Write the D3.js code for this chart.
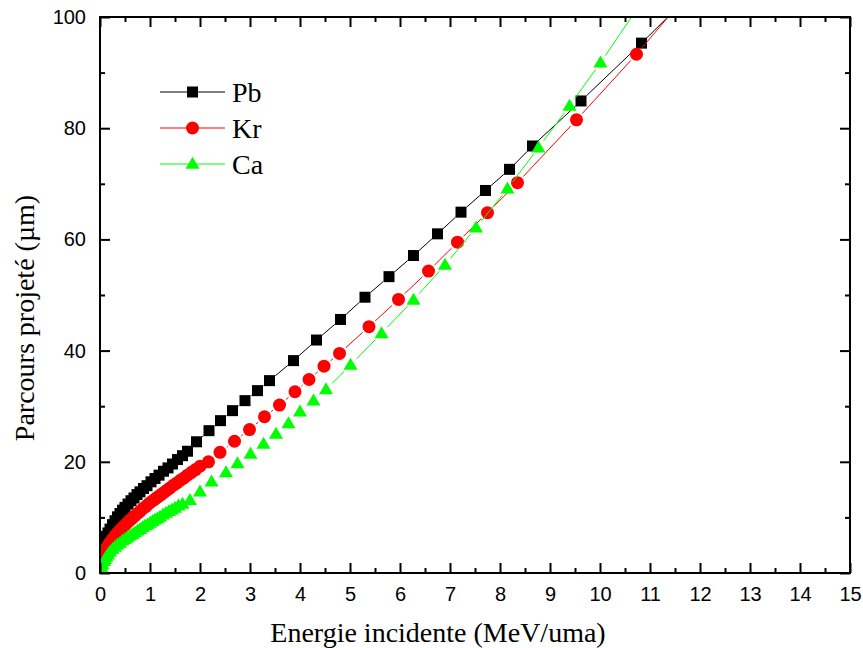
<!DOCTYPE html>
<html>
<head>
<meta charset="utf-8">
<script src="https://cdn.jsdelivr.net/npm/d3@7"></script>
<style>
  html, body { margin: 0; padding: 0; background: #fff; }
  svg { display: block; }
  .tick-label { font-family: "Liberation Sans", Arial, sans-serif; font-size: 20px; fill: #000; }
  .title { font-family: "Liberation Serif", "Times New Roman", serif; font-size: 28px; fill: #000; }
</style>
</head>
<body>
<svg id="chart" width="863" height="648"></svg>
<script>
// Projected range (µm) versus incident energy (MeV/u) for three ions.
const energyPb = [0.01, 0.03, 0.05, 0.08, 0.1, 0.13, 0.16, 0.2, 0.25, 0.3, 0.35, 0.4, 0.45, 0.5, 0.56, 0.62, 0.68, 0.74, 0.8,
  0.87, 0.94, 1.02, 1.1, 1.18, 1.27, 1.36, 1.45, 1.55, 1.65, 1.75, 1.93,
  2.18, 2.41, 2.65, 2.9, 3.15, 3.39, 3.87, 4.33, 4.81, 5.3, 5.78, 6.27, 6.75, 7.22, 7.71, 8.19, 8.65, 9.62, 10.83, 12.3];
const rangePb = [3.0, 4.2, 4.8, 5.5, 6.0, 6.6, 7.2, 7.9, 8.7, 9.4, 10.1, 10.7, 11.3, 11.8, 12.4, 13.0, 13.5, 14.1, 14.6,
  15.2, 15.7, 16.4, 17.0, 17.6, 18.3, 18.9, 19.6, 20.4, 21.1, 21.9, 23.6,
  25.6, 27.4, 29.2, 31.0, 32.8, 34.6, 38.2, 41.9, 45.6, 49.6, 53.3, 57.1, 61.0, 64.9, 68.8, 72.6, 76.8, 84.9, 95.3, 108.4];

const energyKr = [0.01, 0.03, 0.05, 0.08, 0.1, 0.13, 0.16, 0.2, 0.25, 0.3, 0.35, 0.4, 0.45, 0.5, 0.55, 0.6, 0.65, 0.7, 0.75, 0.8,
  0.86, 0.92, 0.98, 1.04, 1.1, 1.16, 1.22, 1.28, 1.34, 1.4, 1.47, 1.54, 1.61, 1.68, 1.75, 1.83, 1.91, 2.0,
  2.17, 2.4, 2.69, 2.99, 3.29, 3.59, 3.9, 4.18, 4.48, 4.79, 5.38, 5.97, 6.57, 7.15, 7.75, 8.35, 9.53, 10.73, 11.93];
const rangeKr = [1.6, 2.6, 3.0, 3.6, 4.0, 4.5, 4.9, 5.5, 6.1, 6.7, 7.2, 7.7, 8.2, 8.6, 9.1, 9.5, 9.9, 10.3, 10.7, 11.1,
  11.6, 12.0, 12.5, 12.9, 13.3, 13.7, 14.1, 14.5, 14.9, 15.3, 15.8, 16.2, 16.7, 17.1, 17.6, 18.1, 18.6, 19.2,
  20.0, 21.7, 23.7, 25.8, 28.1, 30.2, 32.6, 34.8, 37.2, 39.5, 44.3, 49.2, 54.3, 59.5, 64.8, 70.2, 81.5, 93.3, 106.0];

const energyCa = [0.01, 0.03, 0.05, 0.08, 0.1, 0.13, 0.16, 0.2, 0.25, 0.3, 0.35, 0.4, 0.45, 0.5, 0.55, 0.6, 0.65, 0.7, 0.75, 0.8,
  0.85, 0.9, 0.95, 1.0, 1.05, 1.1, 1.15, 1.2, 1.26, 1.32, 1.38, 1.44, 1.5, 1.57, 1.65, 1.8, 2.0,
  2.23, 2.52, 2.75, 3.01, 3.27, 3.52, 3.77, 4.0, 4.27, 4.52, 5.01, 5.63, 6.27, 6.9, 7.52, 8.15, 8.77, 9.39, 10.01, 11.3];
const rangeCa = [0.3, 1.0, 1.5, 2.1, 2.5, 2.9, 3.3, 3.8, 4.3, 4.7, 5.1, 5.4, 5.8, 6.1, 6.4, 6.7, 7.0, 7.3, 7.6, 7.9,
  8.2, 8.5, 8.7, 9.0, 9.3, 9.6, 9.8, 10.1, 10.5, 10.8, 11.1, 11.4, 11.7, 12.1, 12.4, 13.1, 14.6,
  16.4, 18.1, 19.7, 21.4, 23.2, 25.0, 26.9, 29.0, 31.0, 33.0, 37.4, 43.1, 49.1, 55.4, 62.1, 69.1, 76.5, 84.0, 91.8, 108.8];

const seriesNames = ["Pb", "Kr", "Ca"];
const seriesColors = ["#000000", "#ff0000", "#00ff00"];
const seriesSymbols = ["square", "circle", "triangle"];

const xTicks = d3.range(0, 16, 1);
const xMinorTicks = d3.range(0.5, 15, 1);
const yTicks = [0, 20, 40, 60, 80, 100];
const yMinorTicks = [10, 30, 50, 70, 90];

const xTitle = "Energie incidente (MeV/uma)";
const yTitle = "Parcours projeté (µm)";

const series = [
  { name: seriesNames[0], color: seriesColors[0], symbol: seriesSymbols[0], pts: energyPb.map((e, i) => [e, rangePb[i]]) },
  { name: seriesNames[1], color: seriesColors[1], symbol: seriesSymbols[1], pts: energyKr.map((e, i) => [e, rangeKr[i]]) },
  { name: seriesNames[2], color: seriesColors[2], symbol: seriesSymbols[2], pts: energyCa.map((e, i) => [e, rangeCa[i]]) }
];

const plot = { left: 100, right: 850, top: 17, bottom: 573 };
const x = d3.scaleLinear().domain([0, 15]).range([plot.left, plot.right]);
const y = d3.scaleLinear().domain([0, 100]).range([plot.bottom, plot.top]);

const svg = d3.select("#chart");

svg.append("defs").append("clipPath").attr("id", "plot-clip")
  .append("rect")
  .attr("x", plot.left).attr("y", plot.top)
  .attr("width", plot.right - plot.left).attr("height", plot.bottom - plot.top);

const markerRadius = { square: 5.5, circle: 6.5, triangle: 6.5 };

function drawMarker(g, symbol, cx, cy, color) {
  if (symbol === "square") {
    g.append("rect").attr("x", cx - 5.5).attr("y", cy - 5.5).attr("width", 11).attr("height", 11).attr("fill", color);
  } else if (symbol === "circle") {
    g.append("circle").attr("cx", cx).attr("cy", cy).attr("r", 6.5).attr("fill", color);
  } else {
    const h = 12, w = 14;
    g.append("path")
      .attr("d", `M${cx},${cy - h * 0.6}L${cx + w / 2},${cy + h * 0.4}L${cx - w / 2},${cy + h * 0.4}Z`)
      .attr("fill", color);
  }
}

const dataLayer = svg.append("g").attr("clip-path", "url(#plot-clip)");

// Connecting lines stop short of each symbol, leaving a small gap
series.forEach(s => {
  const g = dataLayer.append("g");
  const gap = markerRadius[s.symbol] + 2;
  for (let i = 1; i < s.pts.length; i++) {
    const x0 = x(s.pts[i - 1][0]), y0 = y(s.pts[i - 1][1]);
    const x1 = x(s.pts[i][0]), y1 = y(s.pts[i][1]);
    const d = Math.hypot(x1 - x0, y1 - y0);
    if (d <= 2 * gap) continue;
    const ux = (x1 - x0) / d, uy = (y1 - y0) / d;
    g.append("line")
      .attr("x1", x0 + ux * gap).attr("y1", y0 + uy * gap)
      .attr("x2", x1 - ux * gap).attr("y2", y1 - uy * gap)
      .attr("stroke", s.color).attr("stroke-width", 1);
  }
  s.pts.forEach(p => drawMarker(g, s.symbol, x(p[0]), y(p[1]), s.color));
});

// Frame and inward ticks
const axes = svg.append("g");
const majorLen = 10, minorLen = 5;

const bottomAxis = d3.axisBottom(x).tickValues(xTicks).tickSize(-majorLen).tickPadding(14).tickFormat(d3.format("d"));
const bottomMinor = d3.axisBottom(x).tickValues(xMinorTicks).tickSize(-minorLen).tickFormat("");
const topAxis = d3.axisTop(x).tickValues(xTicks).tickSize(-majorLen).tickFormat("");
const topMinor = d3.axisTop(x).tickValues(xMinorTicks).tickSize(-minorLen).tickFormat("");
const leftAxis = d3.axisLeft(y).tickValues(yTicks).tickSize(-majorLen).tickPadding(14).tickFormat(d3.format("d"));
const leftMinor = d3.axisLeft(y).tickValues(yMinorTicks).tickSize(-minorLen).tickFormat("");
const rightAxis = d3.axisRight(y).tickValues(yTicks).tickSize(-majorLen).tickFormat("");
const rightMinor = d3.axisRight(y).tickValues(yMinorTicks).tickSize(-minorLen).tickFormat("");

function styleAxis(g) {
  g.select(".domain").remove();
  g.selectAll(".tick line").attr("stroke", "#000").attr("stroke-width", 2);
  g.selectAll(".tick text").attr("class", "tick-label").attr("font-family", null).attr("font-size", null);
}

axes.append("g").attr("transform", `translate(0,${plot.bottom})`).call(bottomAxis).call(styleAxis);
axes.append("g").attr("transform", `translate(0,${plot.bottom})`).call(bottomMinor).call(styleAxis);
axes.append("g").attr("transform", `translate(0,${plot.top})`).call(topAxis).call(styleAxis);
axes.append("g").attr("transform", `translate(0,${plot.top})`).call(topMinor).call(styleAxis);
axes.append("g").attr("transform", `translate(${plot.left},0)`).call(leftAxis).call(styleAxis);
axes.append("g").attr("transform", `translate(${plot.left},0)`).call(leftMinor).call(styleAxis);
axes.append("g").attr("transform", `translate(${plot.right},0)`).call(rightAxis).call(styleAxis);
axes.append("g").attr("transform", `translate(${plot.right},0)`).call(rightMinor).call(styleAxis);

axes.append("rect")
  .attr("x", plot.left).attr("y", plot.top)
  .attr("width", plot.right - plot.left).attr("height", plot.bottom - plot.top)
  .attr("fill", "none").attr("stroke", "#000").attr("stroke-width", 2);

// Axis titles
svg.append("text").attr("class", "title")
  .attr("x", 438).attr("y", 642).attr("text-anchor", "middle")
  .text(xTitle);

svg.append("text").attr("class", "title")
  .attr("transform", "translate(34,318) rotate(-90)")
  .attr("text-anchor", "middle")
  .text(yTitle);

// Legend
const legend = svg.append("g");
series.forEach((s, i) => {
  const ly = 92 + i * 36;
  legend.append("line").attr("x1", 160).attr("x2", 225).attr("y1", ly).attr("y2", ly)
    .attr("stroke", s.color).attr("stroke-width", 1);
  drawMarker(legend, s.symbol, 192.5, ly, s.color);
  legend.append("text").attr("class", "title")
    .attr("x", 232).attr("y", ly + 10).text(s.name);
});
</script>
</body>
</html>
